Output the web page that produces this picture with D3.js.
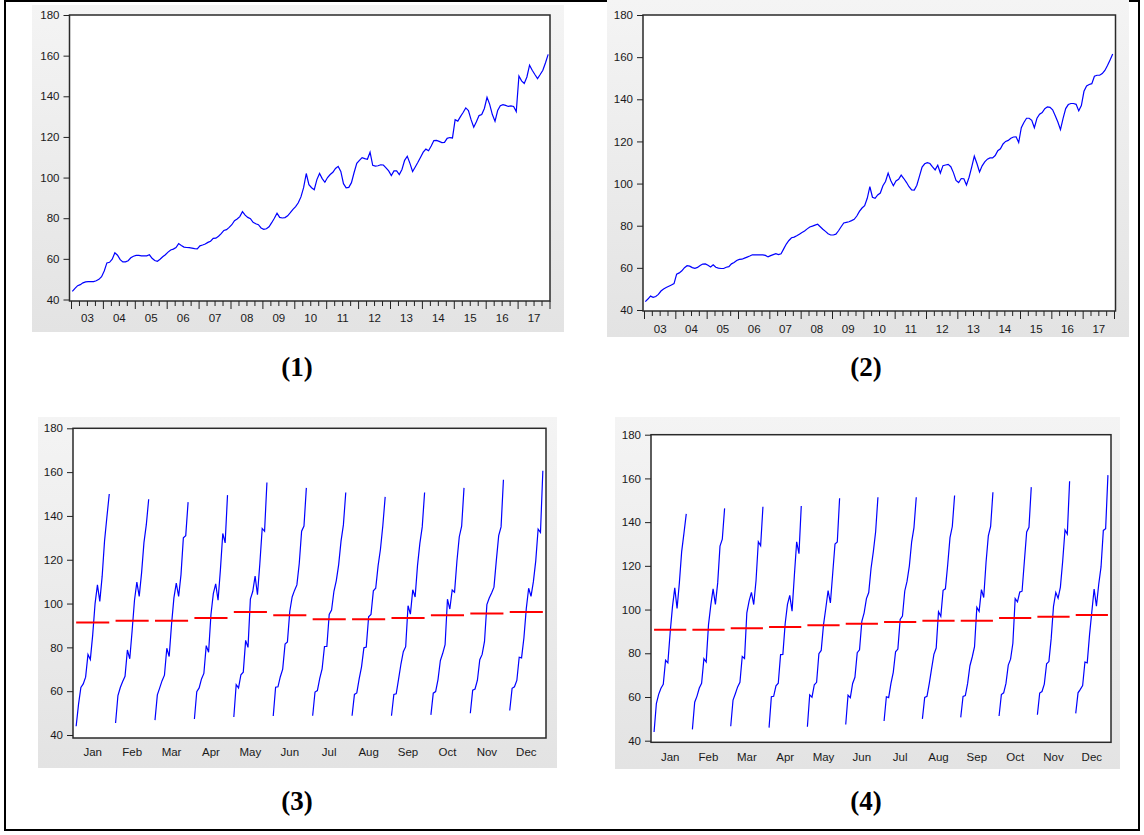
<!DOCTYPE html>
<meta charset="utf-8">
<style>
body { margin: 0; background: #fff; }
svg { display: block; }
.axis text { font-family: Arial, "Liberation Sans", sans-serif; font-size: 11.5px; fill: #1a1a1a; }
.axis line { stroke: #222; }
.axis path { display: none; }
.caption { font-family: "Times New Roman", "Liberation Serif", serif; font-weight: bold; font-size: 27px; }
</style>
<body>
  <svg width="1144" height="835"></svg>
</body>
<script src="https://cdn.jsdelivr.net/npm/d3@7"></script>
<script>

// monthly series, Jan 2003 .. Dec 2017
var rawValues = [
  44, 45.5, 46.8, 47.3, 48.2, 48.7, 48.8, 48.8, 48.8, 49.2, 49.9, 51.2,
  54, 58, 58.3, 59.8, 63, 61.8, 59.6, 58.5, 58.5, 59.1, 60.5, 61.3,
  61.7, 61.7, 61.5, 61.5, 61.5, 62, 60.3, 59.2, 58.8, 59.8, 61, 62,
  63.3, 64.4, 64.8, 65.6, 67.5, 66.6, 65.8, 65.6, 65.5, 65.3, 65, 64.9,
  66.4, 66.8, 67.3, 68.1, 68.7, 70.1, 70.2, 71.1, 72.4, 74, 74.4, 75.5,
  76.8, 78.8, 79.6, 80.8, 83.2, 81.5, 80.4, 79.8, 78, 77.3, 76.8, 75.2,
  74.5, 74.8, 75.8, 77.8, 80, 82.5, 80.4, 80.1, 80.3, 81.2, 82.7, 84.4,
  85.7, 87.6, 90.5, 95, 102, 96.5, 95, 94, 99, 102, 99.5, 97.7,
  100, 101.5, 102.6, 104.5, 105.5, 103, 97, 95, 95.2, 97.5, 102.5, 107,
  108.5, 109.8, 109.3, 109, 112.5, 106, 105.6, 105.8, 106.3, 106.2, 104.8, 103.3,
  101, 103.3, 103.3, 101.5, 104, 108.5, 110.5, 107, 103, 105.2, 107.5, 110,
  112.5, 114, 113.2, 115.5, 118.2, 118.3, 117.8, 117.2, 117.3, 119.3, 119.7, 119.5,
  128.5, 127.8, 130, 132, 134.3, 133, 128.5, 124.8, 127.5, 130.5, 131, 134,
  139.5, 136, 131, 127.7, 133, 135.4, 135.9, 135.5, 135, 135.3, 135, 132.5,
  150, 147.6, 146.3, 149.5, 155.3, 152.8, 150.7, 148.7, 150.7, 152.8, 156.5, 160.6
];

var adjValues = [
  44, 45.2, 46.6, 46, 46.4, 47.4, 49, 50, 50.7, 51.3, 51.9, 52.5,
  57, 57.6, 58.6, 60.1, 61, 60.8, 60.1, 59.8, 60.2, 61.1, 61.8, 61.9,
  61.2, 60.4, 61.5, 60.3, 59.9, 59.7, 59.7, 60.3, 60.6, 61.9, 62.5, 63.5,
  64, 64.1, 64.6, 65.1, 65.6, 66.2, 66.2, 66.2, 66.2, 66.2, 65.9, 65.2,
  65.8, 66.3, 66.7, 66.3, 66.7, 69, 71.3, 73, 74.3, 74.6, 75.2, 76,
  76.8, 77.5, 78.5, 79.4, 79.8, 80.3, 80.7, 79.5, 78.3, 77.3, 76.2, 75.6,
  75.6, 76, 77.6, 79.5, 81.3, 81.6, 81.9, 82.4, 83, 84.6, 86.8, 88.4,
  89.5, 93, 98.5, 93.5, 93, 94.6, 95.5, 99, 101, 105, 101.5, 99,
  101.2, 102, 104, 102.4, 100.6, 98.5, 97, 96.9, 99.2, 103.5, 107.8, 109.4,
  109.9, 109.5, 107.9, 106.5, 108.7, 105, 108.5, 108.8, 109.1, 108, 105.2, 101.5,
  100.5, 102.4, 102.3, 99.3, 103, 107.8, 113, 109.5, 105.5, 108.4, 110.3, 111.6,
  112.2, 112.2, 113.3, 115.6, 116.5, 118.8, 120, 120.5, 121.5, 122.1, 122.2, 119.5,
  126.5, 129, 131, 131, 130, 126.5, 131, 132.9, 133.7, 135.5, 136.4, 136.2,
  135, 132.2, 129.2, 125.6, 130.9, 135.6, 137.5, 138, 138, 137.6, 134.5, 137,
  143.8, 146.3, 147, 147.4, 150.9, 151.4, 151.4, 152.2, 153.7, 156, 158.7, 161.5
];

var yearLabels = ["03","04","05","06","07","08","09","10","11","12","13","14","15","16","17"];
var monthNames = ["Jan","Feb","Mar","Apr","May","Jun","Jul","Aug","Sep","Oct","Nov","Dec"];
var rawMeans = [91.4, 92.2, 92.2, 93.4, 96.1, 94.7, 92.8, 92.8, 93.4, 94.7, 95.5, 96.1];
var adjMeans = [90.8, 90.8, 91.4, 92.0, 92.8, 93.5, 94.3, 94.9, 94.9, 96.1, 96.7, 97.5];
var yTicks = [40, 60, 80, 100, 120, 140, 160, 180];
var captions = ["(1)", "(2)", "(3)", "(4)"];

var svg = d3.select("svg");

var grad = svg.append("defs").append("linearGradient")
    .attr("id", "bgGrad").attr("x1", 0).attr("y1", 0).attr("x2", 0).attr("y2", 1);
grad.append("stop").attr("offset", "0%").attr("stop-color", "#f4f4f4");
grad.append("stop").attr("offset", "100%").attr("stop-color", "#e3e3e3");

// outer frame of the figure
svg.append("rect")
    .attr("x", 5).attr("y", 1).attr("width", 1134).attr("height", 829)
    .attr("fill", "none").attr("stroke", "#000").attr("stroke-width", 2);

function drawBack(g, L) {
  g.append("rect")
      .attr("x", L.bg[0]).attr("y", L.bg[1])
      .attr("width", L.bg[2] - L.bg[0]).attr("height", L.bg[3] - L.bg[1])
      .attr("fill", "url(#bgGrad)");
  g.append("rect")
      .attr("x", L.plot[0]).attr("y", L.plot[1])
      .attr("width", L.plot[2] - L.plot[0]).attr("height", L.plot[3] - L.plot[1])
      .attr("fill", "#fff");
}

function drawFrame(g, L) {
  g.append("rect")
      .attr("x", L.plot[0]).attr("y", L.plot[1])
      .attr("width", L.plot[2] - L.plot[0]).attr("height", L.plot[3] - L.plot[1])
      .attr("fill", "none").attr("stroke", "#2a2a2a").attr("stroke-width", 1.5);
}

function drawYAxis(g, L, y) {
  g.append("g").attr("class", "axis")
      .attr("transform", "translate(" + L.plot[0] + ",0)")
      .call(d3.axisLeft(y).tickValues(yTicks).tickSize(6).tickPadding(4));
}

function drawLinePanel(values, L) {
  var g = svg.append("g");
  drawBack(g, L);

  var x = d3.scaleLinear().domain([0, values.length]).range(L.xr);
  var y = d3.scaleLinear().domain([40, 180]).range(L.yr);

  g.append("path")
      .datum(values)
      .attr("fill", "none")
      .attr("stroke", "#0000ff")
      .attr("stroke-width", 1.2)
      .attr("d", d3.line().x(function(d, i) { return x(i + 0.5); }).y(function(d) { return y(d); }));

  drawFrame(g, L);
  drawYAxis(g, L, y);

  var bottom = "translate(0," + L.plot[3] + ")";
  g.append("g").attr("class", "axis").attr("transform", bottom)
      .call(d3.axisBottom(x).tickValues(d3.range(0, values.length + 1, 3).filter(function(d) { return d % 12; }))
        .tickSize(5).tickFormat(""));
  g.append("g").attr("class", "axis").attr("transform", bottom)
      .call(d3.axisBottom(x).tickValues(d3.range(0, values.length + 1, 12)).tickSize(8).tickFormat(""));
  g.append("g").attr("class", "axis").attr("transform", bottom)
      .call(d3.axisBottom(x).tickValues(yearLabels.map(function(d, k) { return k * 12 + 6; }))
        .tickSize(0).tickPadding(L.labelPad)
        .tickFormat(function(d) { return yearLabels[(d - 6) / 12]; }));
}

function drawSeasonPanel(values, means, L) {
  var g = svg.append("g");
  drawBack(g, L);

  var band = d3.scaleBand().domain(monthNames)
      .range([L.plot[0], L.plot[2]]).paddingInner(0.16).paddingOuter(0.08);
  var y = d3.scaleLinear().domain([40, 180]).range(L.yr);

  monthNames.forEach(function(m, k) {
    var sub = values.filter(function(d, i) { return i % 12 === k; });
    var xs = d3.scaleLinear().domain([0, sub.length - 1]).range([band(m), band(m) + band.bandwidth()]);
    g.append("path")
        .datum(sub)
        .attr("fill", "none")
        .attr("stroke", "#0000ff")
        .attr("stroke-width", 1.2)
        .attr("d", d3.line().x(function(d, i) { return xs(i); }).y(function(d) { return y(d); }));
    g.append("line")
        .attr("x1", band(m)).attr("x2", band(m) + band.bandwidth())
        .attr("y1", y(means[k])).attr("y2", y(means[k]))
        .attr("stroke", "#ff0000").attr("stroke-width", 2);
  });

  drawFrame(g, L);
  drawYAxis(g, L, y);

  g.append("g").attr("class", "axis")
      .attr("transform", "translate(0," + L.plot[3] + ")")
      .call(d3.axisBottom(band).tickSize(0).tickPadding(L.labelPad));
}

drawLinePanel(rawValues, {
  bg: [32, 5, 564, 332], plot: [69.5, 15, 550, 301],
  xr: [71, 549.5], yr: [299.5, 15], labelPad: 13
});
drawLinePanel(adjValues, {
  bg: [607, 0, 1129, 337], plot: [643, 15, 1115.5, 311],
  xr: [644, 1114], yr: [310, 15], labelPad: 14
});
drawSeasonPanel(rawValues, rawMeans, {
  bg: [38, 417, 557, 768], plot: [73, 428.3, 546, 738],
  yr: [735, 428.3], labelPad: 10
});
drawSeasonPanel(adjValues, adjMeans, {
  bg: [615, 417, 1120, 769], plot: [651, 434.7, 1111, 742.3],
  yr: [740.7, 434.7], labelPad: 10.5
});

var capPos = [[297, 376], [866, 376], [297, 810], [866, 810]];
svg.selectAll("text.caption")
    .data(captions)
    .enter().append("text")
    .attr("class", "caption")
    .attr("text-anchor", "middle")
    .attr("x", function(d, i) { return capPos[i][0]; })
    .attr("y", function(d, i) { return capPos[i][1]; })
    .text(function(d) { return d; });

</script>
